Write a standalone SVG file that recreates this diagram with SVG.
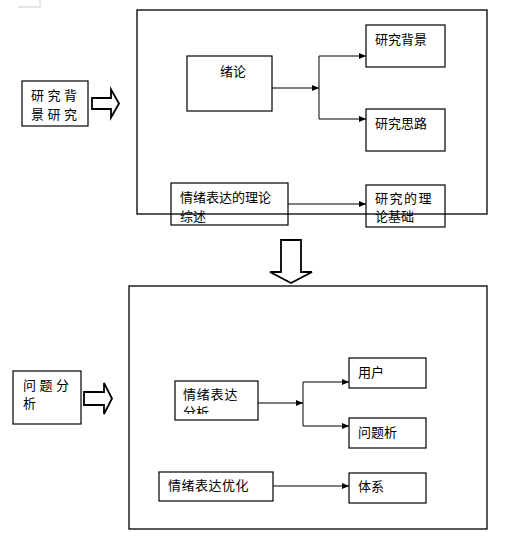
<svg xmlns="http://www.w3.org/2000/svg" width="527" height="536" viewBox="0 0 527 536">
<style>
.box{fill:none;stroke:#000;stroke-width:1.2}
.frame{fill:none;stroke:#000;stroke-width:1.3}
.t{font-family:"Noto Sans CJK SC","Liberation Sans",sans-serif;font-size:13px;fill:#000}
.c{stroke:#000;stroke-width:1;fill:none}
.blk{fill:#fff;stroke:#000;stroke-width:1.8;stroke-linejoin:miter}
</style>
<defs>
<marker id="ah" markerWidth="7" markerHeight="6" refX="7" refY="3" orient="auto" markerUnits="userSpaceOnUse">
<path d="M0,0 L7,3 L0,6 Z" fill="#000"/>
</marker>
<clipPath id="clipA"><rect x="175" y="381" width="84" height="33"/></clipPath>
</defs>
<rect width="527" height="536" fill="#fff"/>
<path d="M40,0 V7 H18" stroke="#ccc" stroke-width="1" fill="none"/>

<g id="n-left1">
<rect class="box" x="22" y="81" width="66" height="45"/>
<text class="t" x="31" y="100" letter-spacing="3.5">研究背</text>
<text class="t" x="31" y="119" letter-spacing="3.5">景研究</text>
</g>
<g id="arrow-right1">
<path class="blk" d="M92,98 H111 V89.5 L119,103.5 L111,117.5 V109 H92 Z"/>
</g>

<g id="n-xulun">
<rect class="box" x="187" y="56" width="85" height="55"/>
<text class="t" x="220" y="76">绪论</text>
</g>
<g id="n-bg">
<rect class="box" x="366" y="25" width="79" height="42"/>
<text class="t" x="375" y="44">研究背景</text>
</g>
<g id="n-sl">
<rect class="box" x="366" y="109" width="79" height="42"/>
<text class="t" x="375" y="128">研究思路</text>
</g>
<g id="n-zs">
<rect class="box" x="171" y="183" width="117" height="42"/>
<text class="t" x="180" y="202">情绪表达的理论</text>
<text class="t" x="180" y="221">综述</text>
</g>
<g id="n-jc">
<rect class="box" x="366" y="185" width="79" height="42"/>
<text class="t" x="375" y="203" letter-spacing="1.5">研究的理</text>
<text class="t" x="375" y="221">论基础</text>
</g>
<g id="frame-top">
<rect class="frame" x="137" y="10" width="350" height="204"/>
</g>

<g id="arrow-down">
<path class="blk" d="M281,240 H301 V272 H312 L291,283 L270,272 H281 Z"/>
</g>

<g id="n-left2">
<rect class="box" x="13" y="371" width="68" height="53"/>
<text class="t" x="23" y="390" letter-spacing="3.5">问题分</text>
<text class="t" x="23" y="408">析</text>
</g>
<g id="arrow-right2">
<path class="blk" d="M84,392 H104 V383 L112,398.5 L104,414 V405 H84 Z"/>
</g>

<g id="n-fx">
<rect class="box" x="175" y="381" width="83" height="39"/>
<text class="t" x="183" y="399" letter-spacing="0.8">情绪表达</text>
<text class="t" x="183" y="417" clip-path="url(#clipA)">分析</text>
</g>
<g id="n-yh">
<rect class="box" x="349" y="358" width="77" height="30"/>
<text class="t" x="358" y="377">用户</text>
</g>
<g id="n-wt">
<rect class="box" x="349" y="418" width="77" height="30"/>
<text class="t" x="358" y="437">问题析</text>
</g>
<g id="n-yhh">
<rect class="box" x="159" y="472" width="114" height="29"/>
<text class="t" x="168" y="490" letter-spacing="0.5">情绪表达优化</text>
</g>
<g id="n-tx">
<rect class="box" x="349" y="473" width="77" height="30"/>
<text class="t" x="358" y="491">体系</text>
</g>
<g id="frame-bottom">
<rect class="frame" x="129" y="286" width="358" height="243"/>
</g>

<g id="connectors">
<line class="c" x1="272" y1="88" x2="319" y2="88" marker-end="url(#ah)"/>
<line class="c" x1="319" y1="56" x2="319" y2="119"/>
<line class="c" x1="319" y1="56" x2="366" y2="56" marker-end="url(#ah)"/>
<line class="c" x1="319" y1="119" x2="366" y2="119" marker-end="url(#ah)"/>
<line class="c" x1="288" y1="204" x2="366" y2="204" marker-end="url(#ah)"/>
<line class="c" x1="258" y1="403" x2="303" y2="403" marker-end="url(#ah)"/>
<line class="c" x1="303" y1="382" x2="303" y2="426"/>
<line class="c" x1="303" y1="382" x2="349" y2="382" marker-end="url(#ah)"/>
<line class="c" x1="303" y1="426" x2="349" y2="426" marker-end="url(#ah)"/>
<line class="c" x1="273" y1="486" x2="349" y2="486" marker-end="url(#ah)"/>
</g>
</svg>
